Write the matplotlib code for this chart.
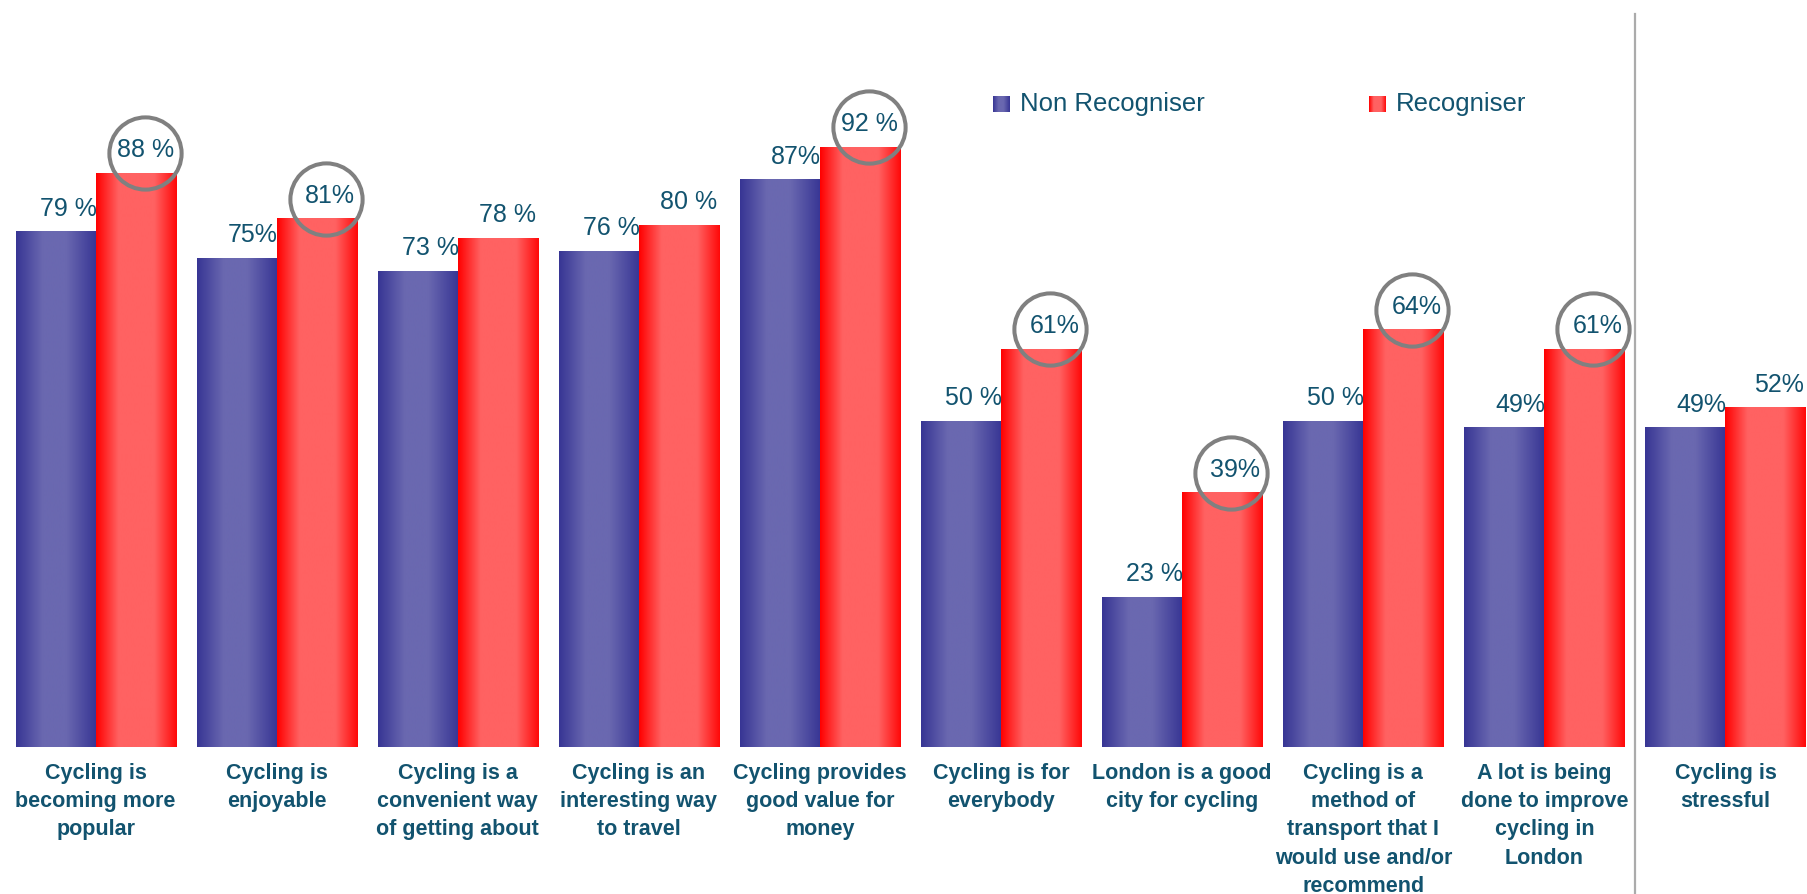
import numpy as np
import matplotlib
matplotlib.use("Agg")
import matplotlib.pyplot as plt
from matplotlib import font_manager
from matplotlib.colors import LinearSegmentedColormap
from matplotlib.transforms import offset_copy

# ---- data -------------------------------------------------------------
categories = [
    "Cycling is\nbecoming more\npopular",
    "Cycling is\nenjoyable",
    "Cycling is a\nconvenient way\nof getting about",
    "Cycling is an\ninteresting way\nto travel",
    "Cycling provides\ngood value for\nmoney",
    "Cycling is for\neverybody",
    "London is a good\ncity for cycling",
    "Cycling is a\nmethod of\ntransport that I\nwould use and/or\nrecommend",
    "A lot is being\ndone to improve\ncycling in\nLondon",
    "Cycling is\nstressful",
]
non_recogniser = [79, 75, 73, 76, 87, 50, 23, 50, 49, 49]
recogniser = [88, 81, 78, 80, 92, 61, 39, 64, 61, 52]
series_names = ["Non Recogniser", "Recogniser"]
# gaps between number and % sign in the printed labels
non_sep = [" ", "", " ", " ", "", " ", " ", " ", "", ""]
rec_sep = [" ", "", " ", " ", " ", "", "", "", "", ""]
# which recogniser results are highlighted with a ring
highlighted = [True, True, False, False, True, True, True, True, True, False]

# ---- style ------------------------------------------------------------
TEXT = "#12536F"
RING = "#808080"
blue_cmap = LinearSegmentedColormap.from_list(
    "bluebar", [(0, "#373594"), (0.33, "#6A68B0"), (0.62, "#6A68B0"), (1, "#373594")])
red_cmap = LinearSegmentedColormap.from_list(
    "redbar", [(0, "#FF0000"), (0.28, "#FF6262"), (0.72, "#FF6262"), (1, "#FF0808")])
grad = np.linspace(0, 1, 256).reshape(1, -1)

installed = {f.name for f in font_manager.fontManager.ttflist}
BASE = "Liberation Sans"
NARROW = "Liberation Sans Narrow" if "Liberation Sans Narrow" in installed else BASE
label_family = [BASE, BASE, BASE, NARROW, NARROW, NARROW, NARROW, NARROW, NARROW, BASE]
plt.rcParams["font.family"] = [BASE, "DejaVu Sans"]

W, H, DPI = 1807, 894, 100
fig = plt.figure(figsize=(W / DPI, H / DPI), dpi=DPI)
fig.patch.set_facecolor("white")

base_px = 147          # distance of the zero line from the figure bottom
pct_px = 6.52          # pixels per percentage point
group_px = 181.1       # distance between category centres
first_px = 95.6        # centre of the first category

ax = fig.add_axes([0, base_px / H, 1, (H - base_px) / H])
ax.axis("off")

x = np.arange(len(categories))
bw = 0.442
blue_bars = ax.bar(x - bw / 2, non_recogniser, bw, color="none", linewidth=0)
red_bars = ax.bar(x + bw / 2, recogniser, bw, color="none", linewidth=0)

for bars, cmap in ((blue_bars, blue_cmap), (red_bars, red_cmap)):
    for b in bars:
        x0, w, h = b.get_x(), b.get_width(), b.get_height()
        ax.imshow(grad, cmap=cmap, aspect="auto", interpolation="bilinear",
                  extent=[x0, x0 + w, 0, h], zorder=2)
ax.set_xlim(-first_px / group_px, (W - first_px) / group_px)
ax.set_ylim(0, (H - base_px) / pct_px)

# value labels, right aligned on each bar's right edge
for i in range(len(categories)):
    ax.annotate(f"{non_recogniser[i]}{non_sep[i]}%", (x[i], non_recogniser[i]),
                xytext=(1, 16), textcoords="offset pixels", ha="right", va="baseline",
                fontsize=18, color=TEXT, zorder=4)
    ax.annotate(f"{recogniser[i]}{rec_sep[i]}%", (x[i] + bw, recogniser[i]),
                xytext=(-2, 16), textcoords="offset pixels", ha="right", va="baseline",
                fontsize=18, color=TEXT, zorder=4)

# rings around highlighted recogniser values
ring_tr = offset_copy(ax.transData, fig=fig, x=9, y=20, units="dots")
for i in range(len(categories)):
    if highlighted[i]:
        ax.plot(x[i] + bw / 2, recogniser[i], marker="o", markersize=52,
                markerfacecolor="none", markeredgecolor=RING, markeredgewidth=2.9,
                transform=ring_tr, zorder=5, clip_on=False)

# category labels under the bars
for i, lab in enumerate(categories):
    ax.annotate(lab, (x[i], 0), xytext=(0, -16), textcoords="offset pixels",
                ha="center", va="top", multialignment="center", fontsize=15.5,
                fontweight="bold", color=TEXT, linespacing=1.45,
                family=[label_family[i], "DejaVu Sans"], annotation_clip=False)

# separator before the last statement
ax.axvline(8.5, ymin=-base_px / (H - base_px), ymax=(H - base_px - 14) / (H - base_px),
           color="#ABABAB", linewidth=1.6, clip_on=False, zorder=1)

# legend with gradient swatches
for name, cmap, sx in ((series_names[0], blue_cmap, 993), (series_names[1], red_cmap, 1369)):
    sw = fig.add_axes([sx / W, (H - 112) / H, 17 / W, 16 / H])
    sw.imshow(grad, cmap=cmap, aspect="auto", interpolation="bilinear")
    sw.axis("off")
    fig.text((sx + 27) / W, (H - 104) / H, name, ha="left", va="center",
             fontsize=18.5, color=TEXT)

fig.savefig("out.png", dpi=DPI, facecolor="white")
